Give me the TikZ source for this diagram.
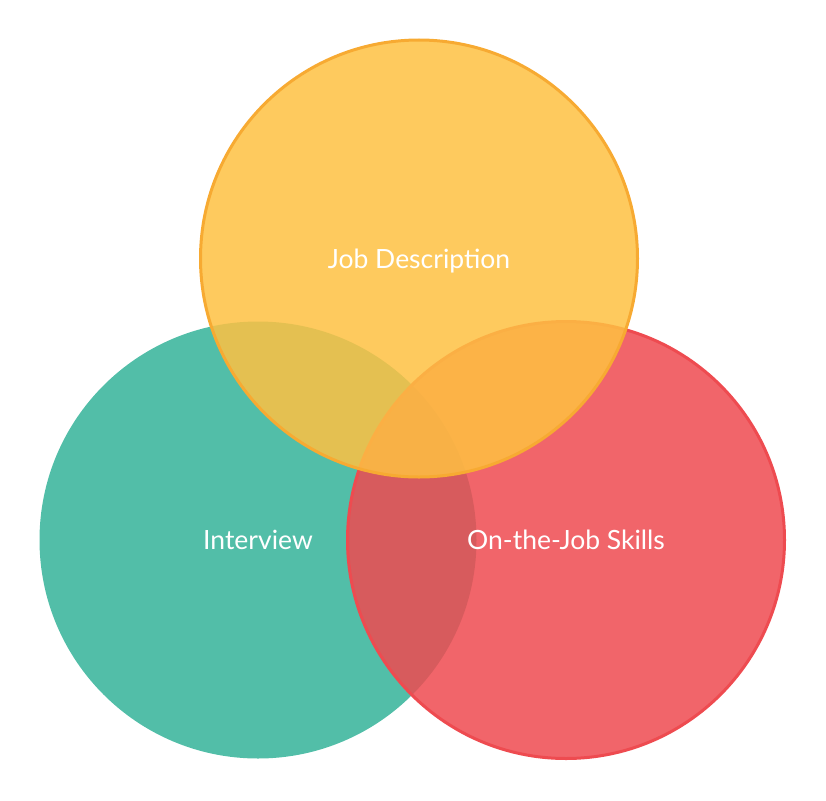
\documentclass[tikz,border=0pt]{standalone}
\usepackage{fontspec}
\setmainfont{Lato}
\usepackage{xcolor}
\definecolor{interviewgreen}{RGB}{82,190,168}
\definecolor{skillsred}{RGB}{239,74,80}
\definecolor{skillsline}{RGB}{238,75,80}
\definecolor{jobyellow}{RGB}{254,193,66}
\definecolor{jobline}{RGB}{247,170,50}
\tikzset{
  venn/.style={circle,minimum size=437pt,inner sep=0pt,line width=3pt,
    text=white,text opacity=1,text depth=0pt,
    font=\fontsize{26.5}{30}\selectfont}
}

\begin{document}
\begin{tikzpicture}[x=1pt,y=-1pt]
\useasboundingbox (0,0) rectangle (826,800);
% three sets
\node[venn,fill=interviewgreen] (interview) at (258,540) {Interview};
\node[venn,fill=skillsred,fill opacity=0.85,draw=skillsline] (skills) at (566,540) {On-the-Job Skills};
\node[venn,fill=jobyellow,fill opacity=0.85,draw=jobline] (job) at (419,258.5) {Job Description};
\end{tikzpicture}
\end{document}
